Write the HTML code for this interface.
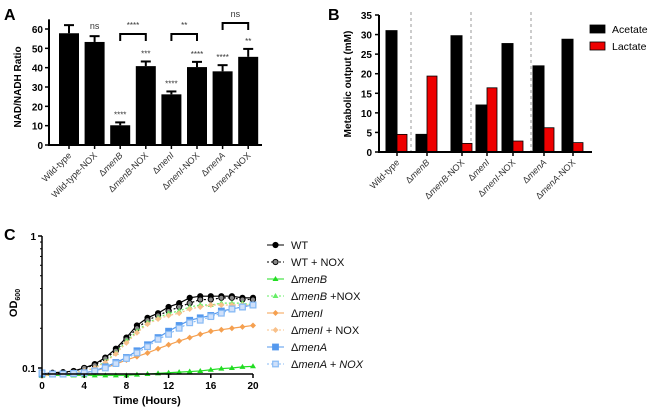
<!DOCTYPE html>
<html><head><meta charset="utf-8"><style>
body{margin:0;background:#fff;width:650px;height:411px;overflow:hidden}
svg{font-family:"Liberation Sans",Arial,sans-serif}
</style></head><body>
<svg id="fig" width="650" height="411" viewBox="0 0 650 411" xmlns="http://www.w3.org/2000/svg">
<g id="pa"></g>
<g id="pb"></g>
<g id="pc"></g>
</svg>
<script>
const aCats=["Wild-type","Wild-type-NOX","ΔmenB","ΔmenB-NOX","ΔmenI","ΔmenI-NOX","ΔmenA","ΔmenA-NOX"];
const aVals=[57.8,53.3,10.2,40.8,26.2,40.3,38.1,45.6];
const aErr=[4.2,3.0,1.5,2.4,1.5,2.7,3.2,4.1];
const aStars=["","ns","****","***","****","****","****","**"];
const aTicks=[0,10,20,30,40,50,60];
const bCats=["Wild-type","ΔmenB","ΔmenB-NOX","ΔmenI","ΔmenI-NOX","ΔmenA","ΔmenA-NOX"];
const bAcetate=[31,4.5,29.7,12,27.7,22,28.8];
const bLactate=[4.5,19.4,2.2,16.4,2.8,6.2,2.4];
const bTicks=[0,5,10,15,20,25,30,35];
const cHours=[0,1,2,3,4,5,6,7,8,9,10,11,12,13,14,15,16,17,18,19,20];
const cWT=[0.09,0.092,0.093,0.095,0.1,0.107,0.12,0.14,0.17,0.21,0.24,0.26,0.29,0.31,0.34,0.35,0.35,0.35,0.35,0.34,0.34];
const cWTNOX=[0.088,0.09,0.092,0.094,0.1,0.105,0.118,0.135,0.165,0.2,0.23,0.25,0.27,0.29,0.31,0.33,0.33,0.34,0.34,0.33,0.33];
const cMenB=[0.088,0.088,0.088,0.088,0.088,0.088,0.088,0.088,0.088,0.089,0.09,0.091,0.092,0.093,0.094,0.095,0.097,0.099,0.1,0.102,0.103];
const cMenBNOX=[0.087,0.089,0.09,0.092,0.095,0.1,0.112,0.13,0.16,0.19,0.22,0.24,0.26,0.27,0.29,0.3,0.3,0.31,0.31,0.31,0.3];
const cMenI=[0.088,0.089,0.09,0.091,0.092,0.095,0.1,0.107,0.115,0.122,0.13,0.14,0.15,0.16,0.17,0.18,0.19,0.195,0.2,0.205,0.21];
const cMenINOX=[0.087,0.089,0.09,0.092,0.095,0.1,0.11,0.128,0.155,0.185,0.215,0.235,0.25,0.26,0.28,0.29,0.3,0.3,0.3,0.3,0.3];
const cMenA=[0.09,0.09,0.09,0.091,0.092,0.095,0.102,0.11,0.12,0.135,0.15,0.17,0.19,0.21,0.23,0.24,0.25,0.27,0.28,0.29,0.3];
const cMenANOX=[0.092,0.09,0.09,0.091,0.092,0.095,0.1,0.108,0.118,0.13,0.145,0.165,0.18,0.2,0.22,0.23,0.245,0.26,0.28,0.29,0.3];

const NS="http://www.w3.org/2000/svg";
function mk(parent,tag,attrs,text){const e=document.createElementNS(NS,tag);for(const k in attrs)e.setAttribute(k,attrs[k]);if(text!==undefined)e.textContent=text;parent.appendChild(e);return e;}
function ital(parent,x,y,label,attrs){
  const t=mk(parent,'text',Object.assign({x:x,y:y},attrs));
  const m=label.match(/^(Δ)(men[A-Z])(.*)$/);
  if(m){mk(t,'tspan',{},'Δ');mk(t,'tspan',{'font-style':'italic'},m[2]);mk(t,'tspan',{},m[3]);}
  else t.textContent=label;
  return t;
}

/* ---------- Panel A ---------- */
const pa=document.getElementById('pa');
const ay=v=>145-v*(116/60);
const ax=i=>69+i*25.6;
let t=mk(pa,'text',{x:4,y:20,'font-size':16,'font-weight':'bold'},'A');


aVals.forEach((v,i)=>{
  const r=mk(pa,'rect',{x:ax(i)-10,y:ay(v),width:20,height:145-ay(v),fill:'#000'});
  
  
  const top=ay(v+aErr[i]);
  mk(pa,'line',{x1:ax(i),x2:ax(i),y1:ay(v),y2:top,stroke:'#000','stroke-width':2});
  mk(pa,'line',{x1:ax(i)-5,x2:ax(i)+5,y1:top,y2:top,stroke:'#000','stroke-width':2});
  if(aStars[i]){const s=mk(pa,'text',{x:ax(i),y:top-(aStars[i]==='ns'?7:5),'font-size':aStars[i]==='ns'?9:8,'text-anchor':'middle',fill:'#333'},aStars[i]);
    
    }
  const lab=ital(pa,0,0,aCats[i],{'font-size':9,'text-anchor':'end',fill:'#333',transform:`translate(${ax(i)+3},${156}) rotate(-45)`});
  
  
  mk(pa,'line',{x1:ax(i),x2:ax(i),y1:145,y2:149,stroke:'#000','stroke-width':1.5});
});
mk(pa,'line',{x1:49,x2:49,y1:ay(65),y2:146,stroke:'#000','stroke-width':2});
mk(pa,'line',{x1:48,x2:262,y1:145,y2:145,stroke:'#000','stroke-width':2});
aTicks.forEach(v=>{mk(pa,'line',{x1:45,x2:49,y1:ay(v),y2:ay(v),stroke:'#000','stroke-width':1.5});
  const l=mk(pa,'text',{x:43,y:ay(v)+4,'font-size':10,'font-weight':'bold','text-anchor':'end'},v);
  
  });
t=mk(pa,'text',{'font-size':10,'font-weight':'bold','text-anchor':'middle',transform:'translate(21,87) rotate(-90)'},'NAD/NADH Ratio');


[[2,3,34,'****'],[4,5,34,'**'],[6,7,23,'ns']].forEach(([a,b,y,s],k)=>{
  const g=mk(pa,'path',{d:`M${ax(a)},${y+7}V${y}H${ax(b)}V${y+7}`,fill:'none',stroke:'#000','stroke-width':2});
  
  
  mk(pa,'text',{x:(ax(a)+ax(b))/2,y:y-6,'font-size':s==='ns'?9:8,'text-anchor':'middle',fill:'#333'},s);
});

/* ---------- Panel B ---------- */
const pb=document.getElementById('pb');
const by=v=>152-v*(137/35);
const bx=[397,427,462,487,513,544,573];
t=mk(pb,'text',{x:328,y:20,'font-size':16,'font-weight':'bold'},'B');


[411,471,531].forEach(x=>{const d=mk(pb,'line',{x1:x,x2:x,y1:12,y2:152,stroke:'#999','stroke-dasharray':'3,3','stroke-width':1});
  
  });
bCats.forEach((c,i)=>{
  const a=mk(pb,'rect',{x:bx[i]-11,y:by(bAcetate[i]),width:11,height:152-by(bAcetate[i]),fill:'#000',stroke:'#000'});
  
  
  const l=mk(pb,'rect',{x:bx[i],y:by(bLactate[i]),width:10,height:152-by(bLactate[i]),fill:'#ee0000',stroke:'#000','stroke-width':0.8});
  
  
  mk(pb,'line',{x1:bx[i],x2:bx[i],y1:152,y2:156,stroke:'#000','stroke-width':1.5});
  const lab=ital(pb,0,0,c,{'font-size':9,'text-anchor':'end',fill:'#333',transform:`translate(${bx[i]+3},${163}) rotate(-45)`});
  
  
});
mk(pb,'line',{x1:379,x2:379,y1:by(35),y2:153,stroke:'#000','stroke-width':2});
mk(pb,'line',{x1:378,x2:592,y1:152,y2:152,stroke:'#000','stroke-width':2});
bTicks.forEach(v=>{mk(pb,'line',{x1:375,x2:379,y1:by(v),y2:by(v),stroke:'#000','stroke-width':1.5});
  const l=mk(pb,'text',{x:372,y:by(v)+4,'font-size':10,'font-weight':'bold','text-anchor':'end'},v);
  
  });
t=mk(pb,'text',{'font-size':10,'font-weight':'bold','text-anchor':'middle',transform:'translate(351,84) rotate(-90)'},'Metabolic output (mM)');


[['Acetate','#000',29],['Lactate','#ee0000',46]].forEach(([n,c,y])=>{
  const g=mk(pb,'g',{});
  
  
  mk(g,'rect',{x:590,y:y-4,width:15,height:8,fill:c,stroke:'#000','stroke-width':0.8});
  mk(g,'text',{x:612,y:y+4,'font-size':10.5},n);
});

/* ---------- Panel C ---------- */
const pc=document.getElementById('pc');
const cx=h=>42+h*(211/20);
const cy=v=>368-132*Math.log10(v/0.1);
t=mk(pc,'text',{x:4,y:240,'font-size':16,'font-weight':'bold'},'C');


const series=[
 ['WT',cWT,'#000','',"circle",true],
 ['WT + NOX',cWTNOX,'#000','2,2',"circle",false],
 ['ΔmenB',cMenB,'#22dd22','',"tri",true],
 ['ΔmenB +NOX',cMenBNOX,'#66ee66','2,2',"tri",false],
 ['ΔmenI',cMenI,'#f5a050','',"dia",true],
 ['ΔmenI + NOX',cMenINOX,'#f8c08a','2,2',"dia",false],
 ['ΔmenA',cMenA,'#5599ee','',"sq",true],
 ['ΔmenA + NOX',cMenANOX,'#88bbf5','2,2',"sq",false]];
function marker(g,type,x,y,c,filled){
  if(type==='circle')mk(g,'circle',{cx:x,cy:y,r:2.6,fill:filled?c:'#888',stroke:c,'stroke-width':1});
  else if(type==='tri')mk(g,'path',{d:`M${x},${y-3}L${x+3},${y+2}L${x-3},${y+2}Z`,fill:c});
  else if(type==='dia')mk(g,'path',{d:`M${x},${y-3}L${x+3},${y}L${x},${y+3}L${x-3},${y}Z`,fill:c});
  else mk(g,'rect',{x:x-2.8,y:y-2.8,width:5.6,height:5.6,fill:filled?c:'#cfe0fa',stroke:c,'stroke-width':1.2});
}
series.forEach(([n,vals,c,dash,m,filled],k)=>{
  const g=mk(pc,'g',{});
  
  
  mk(g,'polyline',{points:vals.map((v,i)=>cx(cHours[i])+','+cy(v)).join(' '),fill:'none',stroke:c,'stroke-width':1.2,'stroke-dasharray':dash});
  vals.forEach((v,i)=>marker(g,m,cx(cHours[i]),cy(v),c,filled));
  const ly=245+k*17;
  const lg=mk(pc,'g',{});
  
  
  mk(lg,'line',{x1:267,x2:284,y1:ly,y2:ly,stroke:c,'stroke-width':1,'stroke-dasharray':dash});
  marker(lg,m,275.5,ly,c,filled);
  const tx=ital(lg,291,ly+4,n,{'font-size':11,fill:'#111'});
  if(k===7){tx.lastChild.setAttribute('font-style','italic');}
});
mk(pc,'line',{x1:42,x2:42,y1:236,y2:374,stroke:'#000','stroke-width':1.5});
mk(pc,'line',{x1:42,x2:253,y1:374,y2:374,stroke:'#000','stroke-width':1.5});
[0.2,0.3,0.4,0.5,0.6,0.7,0.8,0.9].forEach(v=>mk(pc,'line',{x1:40,x2:42,y1:cy(v),y2:cy(v),stroke:'#000','stroke-width':1}));
[[1,'1'],[0.1,'0.1']].forEach(([v,s])=>{mk(pc,'line',{x1:38,x2:42,y1:cy(v),y2:cy(v),stroke:'#000','stroke-width':1.5});
  const l=mk(pc,'text',{x:36,y:cy(v)+4,'font-size':10,'font-weight':'bold','text-anchor':'end'},s);
  
  });
[0,4,8,12,16,20].forEach(h=>{mk(pc,'line',{x1:cx(h),x2:cx(h),y1:374,y2:378,stroke:'#000','stroke-width':1.5});
  const l=mk(pc,'text',{x:cx(h),y:389,'font-size':10,'font-weight':'bold','text-anchor':'middle'},h);
  
  });
t=mk(pc,'text',{x:147,y:404,'font-size':11,'font-weight':'bold','text-anchor':'middle'},'Time (Hours)');


t=mk(pc,'text',{'font-size':11,'font-weight':'bold','text-anchor':'middle',transform:'translate(17,303) rotate(-90)'});
mk(t,'tspan',{},'OD');mk(t,'tspan',{'font-size':7,dy:3},'600');


</script>
</body></html>
